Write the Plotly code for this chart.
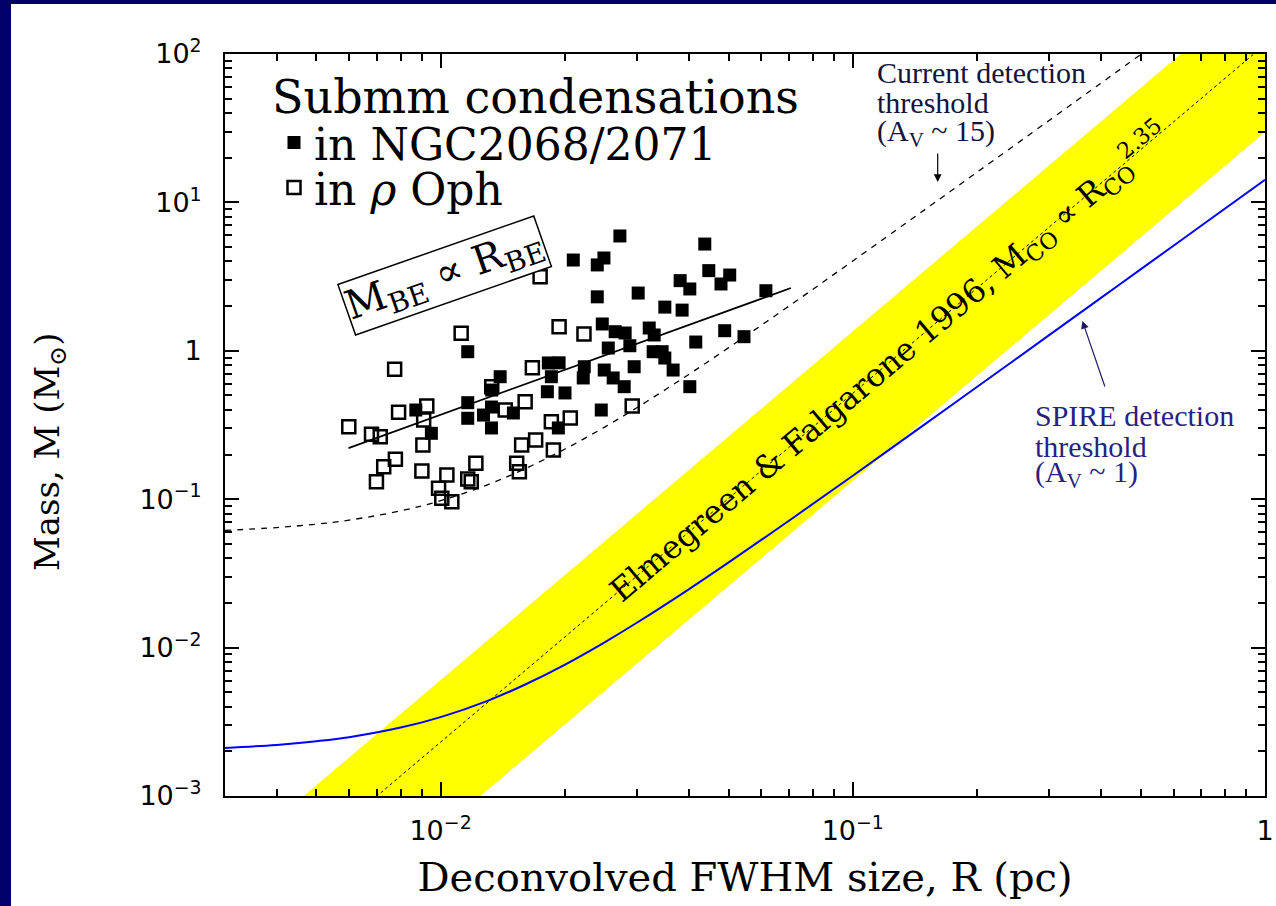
import plotly.graph_objects as go

# ---------------- data ----------------
# Submm condensations in NGC2068/2071 (filled squares): size R (pc), mass M (Msun)
ngc_R = [0.02723, 0.02099, 0.02491, 0.02400, 0.04375, 0.04474, 0.05029, 0.04790,
         0.03813, 0.04024, 0.02400, 0.03016, 0.03500, 0.03855, 0.06155, 0.04890,
         0.05446, 0.04160, 0.02468, 0.02652, 0.02804, 0.02879, 0.03208, 0.03298,
         0.02552, 0.03279, 0.03448, 0.03500, 0.03666, 0.04024, 0.01826, 0.01939,
         0.02232, 0.02219, 0.02495, 0.02623, 0.02789, 0.02949, 0.01857, 0.01816,
         0.02004, 0.02454, 0.01931, 0.01164, 0.01395, 0.01331, 0.01164, 0.01164,
         0.01329, 0.01271, 0.01329, 0.01502, 0.00871, 0.00950]
ngc_M = [5.94, 4.09, 4.22, 3.79, 5.24, 3.47, 3.24, 2.82,
         2.97, 2.61, 2.31, 2.45, 1.97, 1.88, 2.54, 1.366,
         1.245, 1.146, 1.516, 1.345, 1.318, 1.082, 1.424, 1.278,
         1.044, 0.986, 0.986, 0.894, 0.742, 0.573, 0.828, 0.830,
         0.781, 0.656, 0.742, 0.656, 0.573, 0.781, 0.669, 0.530,
         0.520, 0.399, 0.302, 0.986, 0.669, 0.544, 0.447, 0.351,
         0.418, 0.369, 0.302, 0.381, 0.399, 0.278]

# Submm condensations in rho Oph (open squares)
oph_R = [0.01122, 0.007738, 0.01670, 0.01331, 0.00926, 0.00791, 0.00910, 0.00599,
         0.00680, 0.00714, 0.00906, 0.01604, 0.01435, 0.01573, 0.01701, 0.00777,
         0.00728, 0.00699, 0.00901, 0.01036, 0.01218, 0.01164, 0.01187, 0.00989,
         0.01007, 0.01065, 0.01530, 0.01553, 0.01744, 0.01939, 0.02228, 0.02917,
         0.01857, 0.02064, 0.01878]
oph_M = [1.312, 0.750, 0.769, 0.573, 0.425, 0.385, 0.342, 0.308,
         0.274, 0.264, 0.232, 0.454, 0.399, 0.232, 0.2505, 0.1857,
         0.1656, 0.1312, 0.1549, 0.1456, 0.1745, 0.1368, 0.1312, 0.1184,
         0.1014, 0.0962, 0.1745, 0.1532, 3.16, 1.453, 1.298, 0.425,
         0.333, 0.3525, 0.2146]

# M_BE proportional to R_BE line
be_R = [0.00598, 0.0708]
be_M = [0.221, 2.65]

# Current detection threshold (A_V ~ 15), dashed curve
cur_R = [0.003, 0.004, 0.005, 0.006, 0.008, 0.01, 0.013, 0.016, 0.02, 0.025, 0.03,
         0.04, 0.05, 0.07, 0.1, 0.15, 0.2, 0.3, 0.4, 0.5, 0.55]
cur_M = [0.0616, 0.0644, 0.0679, 0.0723, 0.0834, 0.0977, 0.125, 0.160, 0.217, 0.306, 0.415,
         0.693, 1.05, 2.00, 4.03, 8.99, 15.94, 35.8, 63.6, 99.3, 120.0]

# SPIRE detection threshold (A_V ~ 1), blue curve
spire_R = [0.003, 0.004, 0.005, 0.006, 0.008, 0.01, 0.013, 0.016, 0.02, 0.025, 0.03,
           0.04, 0.05, 0.07, 0.1, 0.15, 0.2, 0.3, 0.4, 0.5, 0.7, 1.0]
spire_M = [0.00211, 0.00221, 0.00234, 0.00249, 0.00289, 0.00340, 0.00438, 0.00562, 0.00766,
           0.01086, 0.01476, 0.0247, 0.0375, 0.0716, 0.144, 0.3215, 0.570, 1.280, 2.274,
           3.55, 6.96, 14.2]

# Elmegreen & Falgarone 1996 band (M_CO ~ R_CO^2.35)
ef_R = [0.003, 1.0]
ef_M_center = [1.36e-4, 115.9]
ef_M_upper = [3.56e-4, 302.0]
ef_M_lower = [3.5e-5, 29.8]

# axis ticks
x_tickvals = [0.01, 0.1, 1]
x_ticktext = ["10<sup>\u22122</sup>", "10<sup>\u22121</sup>", "1"]
y_tickvals = [1e-3, 1e-2, 1e-1, 1, 10, 100]
y_ticktext = ["10<sup>\u22123</sup>", "10<sup>\u22122</sup>", "10<sup>\u22121</sup>", "1",
              "10<sup>1</sup>", "10<sup>2</sup>"]
x_minor = [m * 10.0 ** e for e in (-3, -2, -1) for m in range(2, 10)]
y_minor = [m * 10.0 ** e for e in (-3, -2, -1, 0, 1) for m in range(2, 10)]

# ---------------- layout helpers (pixel -> paper) ----------------
L, R, T, B = 225, 11, 54, 110
W, H = 1276, 906
PW, PH = W - L - R, H - T - B


def px(x):
    return (x - L) / PW


def py(y):
    return (H - B - y) / PH


# ---------------- figure ----------------
fig = go.Figure()

# yellow band
fig.add_trace(go.Scatter(
    x=ef_R + ef_R[::-1], y=ef_M_upper + ef_M_lower[::-1],
    fill="toself", fillcolor="#ffff00", line=dict(width=0),
    mode="lines", showlegend=False, hoverinfo="skip"))
fig.add_trace(go.Scatter(
    x=ef_R, y=ef_M_center, mode="lines",
    line=dict(color="black", width=1, dash="dot"), showlegend=False))

# thresholds
fig.add_trace(go.Scatter(
    x=cur_R, y=cur_M, mode="lines", line_shape="spline",
    line=dict(color="black", width=1.3, dash="6px,6px"), showlegend=False))
fig.add_trace(go.Scatter(
    x=spire_R, y=spire_M, mode="lines", line_shape="spline",
    line=dict(color="#0000ff", width=2), showlegend=False))

# BE line
fig.add_trace(go.Scatter(
    x=be_R, y=be_M, mode="lines", line=dict(color="black", width=1.8), showlegend=False))

serif = "DejaVu Serif"
times = "Liberation Serif"

# points
fig.add_trace(go.Scatter(
    x=ngc_R, y=ngc_M, mode="markers", name="in NGC2068/2071", legend="legend",
    marker=dict(symbol="square", size=13, color="black", line=dict(width=0))))
fig.add_trace(go.Scatter(
    x=oph_R, y=oph_M, mode="markers", name="in <i>\u03c1</i> Oph", legend="legend2",
    marker=dict(symbol="square-open", size=13, color="black", line=dict(width=2.5))))

axis_common = dict(
    type="log", showgrid=False, zeroline=False, showline=True, linecolor="black",
    linewidth=2, mirror="allticks", ticks="inside", ticklen=14, tickwidth=1.5,
    tickcolor="black", tickmode="array", automargin=False,
    tickfont=dict(family="DejaVu Sans", size=27, color="black"),
)

fig.update_xaxes(
    **axis_common, range=[-2.5229, 0], tickvals=x_tickvals, ticktext=x_ticktext,
    ticklabelstandoff=10,
    minor=dict(tickmode="array", tickvals=x_minor, ticks="inside", ticklen=7,
               tickwidth=1.5, tickcolor="black", showgrid=False),
    title=dict(text="Deconvolved FWHM size, R (pc)",
               font=dict(family=serif, size=40, color="black"), standoff=18),
)
fig.update_yaxes(
    **axis_common, range=[-3, 2], tickvals=y_tickvals, ticktext=y_ticktext,
    ticklabelstandoff=16,
    minor=dict(tickmode="array", tickvals=y_minor, ticks="inside", ticklen=7,
               tickwidth=1.5, tickcolor="black", showgrid=False),
)

lbl_cur = dict(family=times, size=30, color="#14143c")
lbl_spire = dict(family=times, size=30, color="#2a1f80")

annotations = [
    # y axis title
    dict(x=px(49), y=py(452), xref="paper", yref="paper", xanchor="center",
         yanchor="middle", showarrow=False, textangle=-90,
         text="Mass, M (M<sub>\u2299</sub>)",
         font=dict(family=serif, size=34, color="black")),
    # legend heading
    dict(x=px(270), y=py(97), xref="paper", yref="paper", xanchor="left", yanchor="middle",
         showarrow=False, text="Submm condensations",
         font=dict(family=serif, size=46, color="black")),
    # band label
    dict(x=-0.9106, y=-0.0748, xref="x", yref="y", showarrow=False, textangle=-40.2,
         xanchor="center", yanchor="middle",
         text="Elmegreen & Falgarone 1996, M<sub>CO</sub> \u221d R<sub>CO</sub><sup>2.35</sup>",
         font=dict(family=serif, size=32, color="black")),
    # BE box
    dict(x=px(444.5), y=py(275), xref="paper", yref="paper", xanchor="center",
         yanchor="middle", showarrow=False, textangle=-19.3,
         text="M<sub>BE</sub> \u221d R<sub>BE</sub>",
         font=dict(family=serif, size=40, color="black"),
         bordercolor="black", borderwidth=1.5, borderpad=0, bgcolor="white"),
    # current detection threshold label
    dict(x=px(875), y=py(73), xref="paper", yref="paper", xanchor="left", yanchor="middle",
         showarrow=False, text="Current detection", font=lbl_cur),
    dict(x=px(875), y=py(103), xref="paper", yref="paper", xanchor="left", yanchor="middle",
         showarrow=False, text="threshold", font=lbl_cur),
    dict(x=px(875), y=py(133), xref="paper", yref="paper", xanchor="left", yanchor="middle",
         showarrow=False, text="(A<sub>V</sub> ~ 15)", font=lbl_cur),
    dict(x=-0.794, y=1.1375, xref="x", yref="y", ax=0, ay=-30, text="",
         showarrow=True, arrowhead=2, arrowsize=1.3, arrowwidth=1.2, arrowcolor="black"),
    # SPIRE label
    dict(x=px(1033), y=py(416), xref="paper", yref="paper", xanchor="left", yanchor="middle",
         showarrow=False, text="SPIRE detection", font=lbl_spire),
    dict(x=px(1033), y=py(446), xref="paper", yref="paper", xanchor="left", yanchor="middle",
         showarrow=False, text="threshold", font=lbl_spire),
    dict(x=px(1033), y=py(474), xref="paper", yref="paper", xanchor="left", yanchor="middle",
         showarrow=False, text="(A<sub>V</sub> ~ 1)", font=lbl_spire),
    dict(x=-0.443, y=0.201, xref="x", yref="y", ax=23, ay=67, text="",
         showarrow=True, arrowhead=2, arrowsize=1.3, arrowwidth=1.2, arrowcolor="#1a1a60"),
]

# white page area over the navy background
shapes = [
    dict(type="rect", xref="paper", yref="paper", layer="below",
         x0=px(11), x1=px(1300), y0=py(930), y1=py(4),
         fillcolor="white", line=dict(width=0)),
]

legend_common = dict(xanchor="left", yanchor="middle", bgcolor="rgba(0,0,0,0)",
                     borderwidth=0, font=dict(family=serif, size=44, color="black"))

fig.update_layout(
    width=W, height=H,
    margin=dict(l=L, r=R, t=T, b=B),
    paper_bgcolor="#000068", plot_bgcolor="white",
    annotations=annotations, shapes=shapes,
    showlegend=True,
    legend=dict(x=px(274), y=py(143), **legend_common),
    legend2=dict(x=px(274), y=py(188), **legend_common),
)

fig.write_html("out.html", config={"displayModeBar": False},
               post_script="document.body.style.margin='0px';document.body.style.padding='0px';")
